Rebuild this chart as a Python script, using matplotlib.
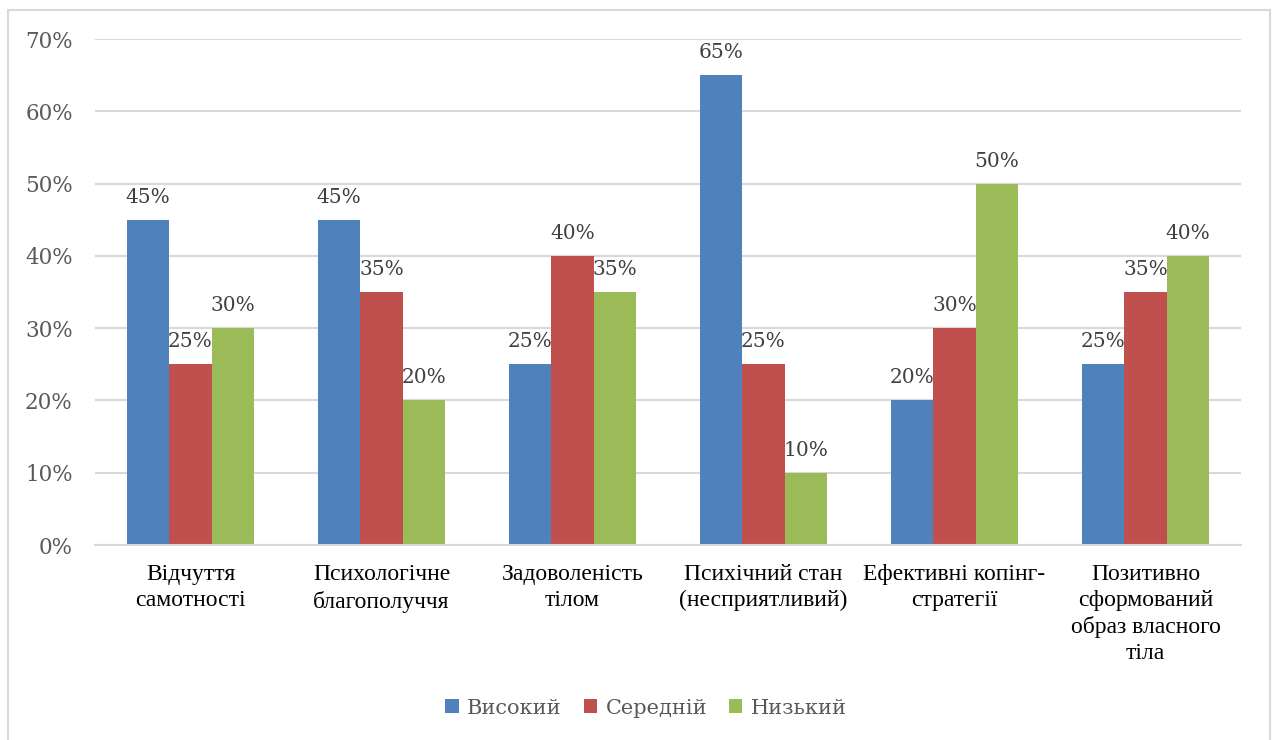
import matplotlib.pyplot as plt
import matplotlib.patches as mpatches
import numpy as np

categories = ["Відчуття\nсамотності", "Психологічне\nблагополуччя", "Задоволеність\nтілом",
              "Психічний стан\n(несприятливий)", "Ефективні копінг-\nстратегії",
              "Позитивно\nсформований\nобраз власного\nтіла"]
series_names = ["Високий", "Середній", "Низький"]
high = [45, 45, 25, 65, 20, 25]
medium = [25, 35, 40, 25, 30, 35]
low = [30, 20, 35, 10, 50, 40]
colors = ["#4F81BD", "#C0504D", "#9BBB59"]
yticks = [0, 10, 20, 30, 40, 50, 60, 70]

fig = plt.figure(figsize=(12.72, 7.4), dpi=100)
ax = fig.add_axes([95 / 1272, 195 / 740, 1146 / 1272, 506 / 740])

# chart border
fig.patches.append(mpatches.Rectangle((8 / 1272, -0.01), 1262 / 1272, 730 / 740 + 0.01,
                                      transform=fig.transFigure, fill=False,
                                      edgecolor="#d9d9d9", linewidth=1.5))

x = np.arange(len(categories))
w = 0.223
label_font = {"family": "DejaVu Serif", "size": 14.5, "color": "#404040"}
for i, (vals, name) in enumerate(zip([high, medium, low], series_names)):
    pos = x + (i - 1) * w
    ax.bar(pos, vals, width=w, color=colors[i], label=name, zorder=2)
    for px, v in zip(pos, vals):
        ax.text(px, v + 1.8, f"{v}%", ha="center", va="bottom", fontdict=label_font)

ax.set_xlim(-0.5, len(categories) - 0.5)
ax.set_ylim(0, 70)
ax.set_yticks(yticks)
ax.set_yticklabels([f"{t}%" for t in yticks], family="DejaVu Serif", fontsize=15.5, color="#595959")
ax.yaxis.grid(True, color="#d9d9d9", linewidth=1.5, zorder=0)
ax.tick_params(axis="y", length=0, pad=16)
ax.tick_params(axis="x", length=0, pad=14)
ax.set_xticks(x)
ax.set_xticklabels(categories, family="Liberation Serif", fontsize=17, color="black",
                   linespacing=1.3, va="top")
for s in ["top", "right", "left"]:
    ax.spines[s].set_visible(False)
ax.spines["bottom"].set_color("#d9d9d9")
ax.spines["bottom"].set_linewidth(1.5)

fig.legend(loc="center", bbox_to_anchor=(646 / 1272, 1 - 708 / 740), ncol=3, frameon=False,
           prop={"family": "DejaVu Serif", "size": 15}, handlelength=0.65, handleheight=0.65,
           handletextpad=0.4, columnspacing=1.05, labelcolor="#595959")

fig.savefig("out.png", dpi=100)
